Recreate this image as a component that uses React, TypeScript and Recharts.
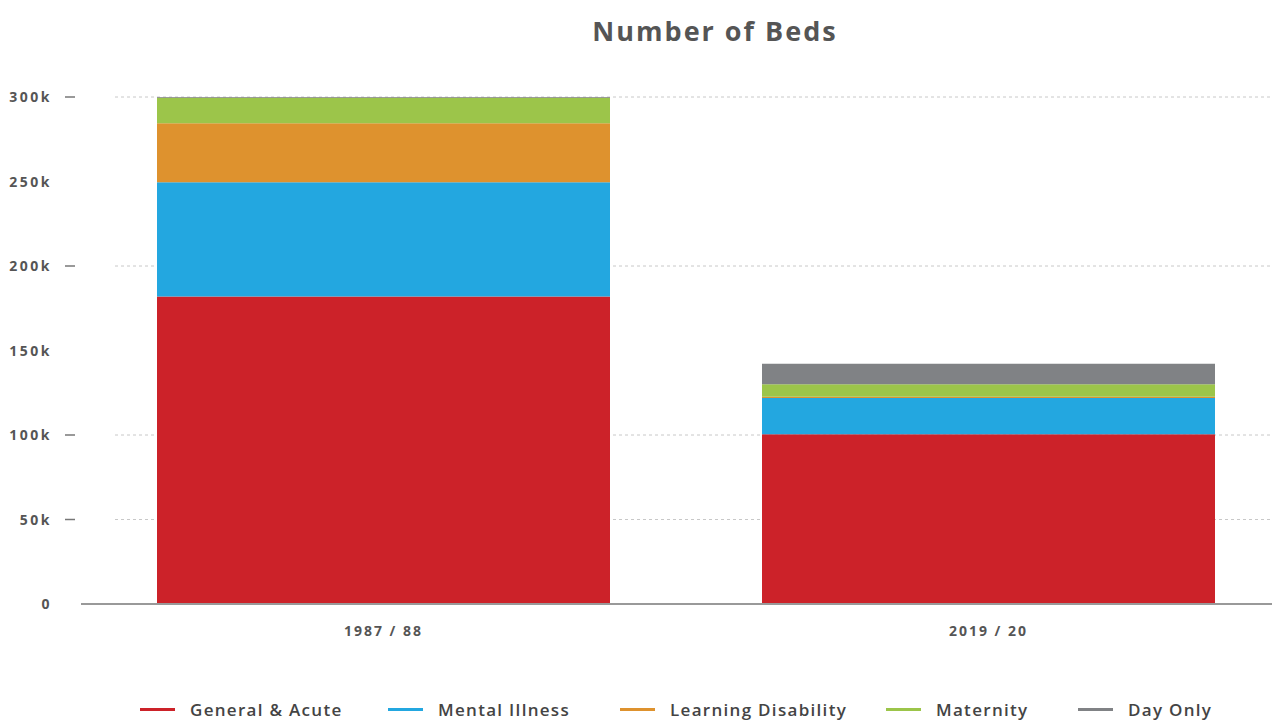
import { BarChart, Bar, XAxis, YAxis, CartesianGrid } from "recharts";

const categories = ["1987 / 88", "2019 / 20"];
const generalAcute = [182000, 100500];
const mentalIllness = [67500, 21400];
const learningDisability = [35000, 700];
const maternity = [15000, 7400];
const dayOnly = [500, 12100];

const yTicks = [0, 50000, 100000, 150000, 200000, 250000, 300000];
const gridValues = [50000, 100000, 200000, 300000];

const series = [
    { key: "general", name: "General & Acute", color: "#cc2229", values: generalAcute },
    { key: "mental", name: "Mental Illness", color: "#23a7e0", values: mentalIllness },
    { key: "learning", name: "Learning Disability", color: "#de922e", values: learningDisability },
    { key: "maternity", name: "Maternity", color: "#9cc54a", values: maternity },
    { key: "dayOnly", name: "Day Only", color: "#808285", values: dayOnly }
];

// legend item left edges (line start)
const legendLeft = [140, 388, 620, 886, 1078];

const data = categories.map((c, i) => {
    const row: any = { category: c };
    series.forEach(s => (row[s.key] = s.values[i]));
    return row;
});

const font = "'Open Sans', 'DejaVu Sans', sans-serif";
const fmt = (v: number) => (v === 0 ? "0" : v / 1000 + "k");

const YTick = (props: any) => {
    const { x, y, payload } = props;
    const v = payload.value;
    return (
        <g>
            <text
                x={x}
                y={y}
                dy={5}
                textAnchor="end"
                fill="#555"
                fontSize={14}
                fontWeight={700}
                letterSpacing={2.5}
                fontFamily={font}
            >
                {fmt(v)}
            </text>
            {gridValues.includes(v) && (
                <line x1={x + 13} x2={x + 23} y1={y} y2={y} stroke="#777" strokeWidth={1.5} />
            )}
        </g>
    );
};

const gridLine = (p: any) => (
    <line key={p.key ?? p.index ?? p.y1} x1={115} x2={p.x2} y1={p.y1} y2={p.y2} stroke="#c8c8c8" strokeDasharray="3 3" />
);

export default function App() {
    return (
        <div style={{ position: "fixed", left: 0, top: 0, width: 1272, height: 720, overflow: "hidden", background: "#fff" }}>
            <div
                style={{
                    position: "absolute",
                    left: 0,
                    top: 12,
                    width: 1430,
                    textAlign: "center",
                    fontFamily: font,
                    fontWeight: 700,
                    fontSize: 27,
                    letterSpacing: 2,
                    color: "#555"
                }}
            >
                Number of Beds
            </div>
            <div style={{ position: "absolute", left: 0, top: 0 }}>
                <BarChart
                    width={1291}
                    height={720}
                    data={data}
                    margin={{ top: 97, right: 0, bottom: 0, left: 0 }}
                >
                    <CartesianGrid vertical={false} horizontal={gridLine} horizontalValues={gridValues} />
                    <XAxis
                        dataKey="category"
                        height={116}
                        tickLine={false}
                        tickSize={0}
                        tickMargin={22}
                        axisLine={{ stroke: "#999", strokeWidth: 2 }}
                        tick={{ fill: "#555", fontSize: 14, fontWeight: 700, letterSpacing: 2, fontFamily: font }}
                    />
                    <YAxis
                        width={81}
                        domain={[0, 300000]}
                        ticks={yTicks}
                        axisLine={false}
                        tickLine={false}
                        tickSize={0}
                        tickMargin={29}
                        tick={<YTick />}
                    />
                    {series.map(s => (
                        <Bar
                            key={s.key}
                            dataKey={s.key}
                            name={s.name}
                            stackId="beds"
                            fill={s.color}
                            barSize={453}
                            isAnimationActive={false}
                        />
                    ))}
                </BarChart>
            </div>
            {series.map((s, i) => (
                <div
                    key={s.key}
                    style={{
                        position: "absolute",
                        left: legendLeft[i],
                        top: 698,
                        display: "flex",
                        alignItems: "center",
                        fontFamily: font,
                        fontWeight: 600,
                        fontSize: 17,
                        letterSpacing: 1.3,
                        color: "#444",
                        whiteSpace: "nowrap"
                    }}
                >
                    <span style={{ display: "inline-block", width: 35, height: 3, background: s.color, marginRight: 15 }} />
                    <span>{s.name}</span>
                </div>
            ))}
        </div>
    );
}
